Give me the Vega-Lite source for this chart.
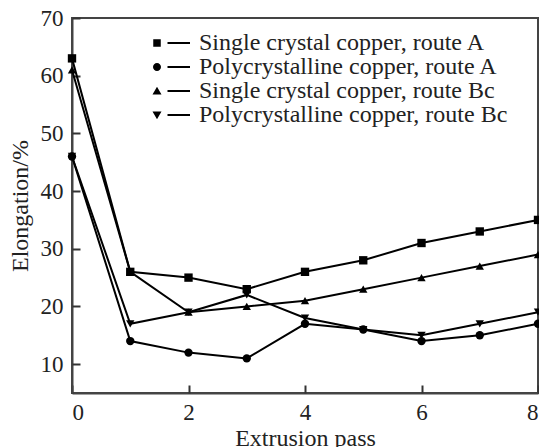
{
  "$schema": "https://vega.github.io/schema/vega-lite/v6.json",
  "width": 466,
  "height": 375,
  "autosize": "none",
  "padding": {"left": 72, "top": 18, "right": 1, "bottom": 54},
  "background": "white",
  "config": {
    "view": {"stroke": "#444", "strokeWidth": 2},
    "font": "Liberation Serif",
    "axis": {
      "labelFont": "Liberation Serif",
      "titleFont": "Liberation Serif",
      "labelFontSize": 23,
      "titleFontSize": 24,
      "titleFontWeight": "normal",
      "labelColor": "#222",
      "titleColor": "#222",
      "domainColor": "#444",
      "domainWidth": 2,
      "tickColor": "#333",
      "tickWidth": 2,
      "grid": false
    },
    "legend": {
      "labelFont": "Liberation Serif",
      "labelFontSize": 24,
      "labelColor": "#222",
      "labelLimit": 500
    }
  },
  "data": {
    "values": [
      {"pass": 0, "elong": 63, "series": "Single crystal copper, route A"},
      {"pass": 1, "elong": 26, "series": "Single crystal copper, route A"},
      {"pass": 2, "elong": 25, "series": "Single crystal copper, route A"},
      {"pass": 3, "elong": 23, "series": "Single crystal copper, route A"},
      {"pass": 4, "elong": 26, "series": "Single crystal copper, route A"},
      {"pass": 5, "elong": 28, "series": "Single crystal copper, route A"},
      {"pass": 6, "elong": 31, "series": "Single crystal copper, route A"},
      {"pass": 7, "elong": 33, "series": "Single crystal copper, route A"},
      {"pass": 8, "elong": 35, "series": "Single crystal copper, route A"},
      {"pass": 0, "elong": 46, "series": "Polycrystalline copper, route A"},
      {"pass": 1, "elong": 14, "series": "Polycrystalline copper, route A"},
      {"pass": 2, "elong": 12, "series": "Polycrystalline copper, route A"},
      {"pass": 3, "elong": 11, "series": "Polycrystalline copper, route A"},
      {"pass": 4, "elong": 17, "series": "Polycrystalline copper, route A"},
      {"pass": 5, "elong": 16, "series": "Polycrystalline copper, route A"},
      {"pass": 6, "elong": 14, "series": "Polycrystalline copper, route A"},
      {"pass": 7, "elong": 15, "series": "Polycrystalline copper, route A"},
      {"pass": 8, "elong": 17, "series": "Polycrystalline copper, route A"},
      {"pass": 0, "elong": 61, "series": "Single crystal copper, route Bc"},
      {"pass": 1, "elong": 26, "series": "Single crystal copper, route Bc"},
      {"pass": 2, "elong": 19, "series": "Single crystal copper, route Bc"},
      {"pass": 3, "elong": 20, "series": "Single crystal copper, route Bc"},
      {"pass": 4, "elong": 21, "series": "Single crystal copper, route Bc"},
      {"pass": 5, "elong": 23, "series": "Single crystal copper, route Bc"},
      {"pass": 6, "elong": 25, "series": "Single crystal copper, route Bc"},
      {"pass": 7, "elong": 27, "series": "Single crystal copper, route Bc"},
      {"pass": 8, "elong": 29, "series": "Single crystal copper, route Bc"},
      {"pass": 0, "elong": 46, "series": "Polycrystalline copper, route Bc"},
      {"pass": 1, "elong": 17, "series": "Polycrystalline copper, route Bc"},
      {"pass": 2, "elong": 19, "series": "Polycrystalline copper, route Bc"},
      {"pass": 3, "elong": 22, "series": "Polycrystalline copper, route Bc"},
      {"pass": 4, "elong": 18, "series": "Polycrystalline copper, route Bc"},
      {"pass": 5, "elong": 16, "series": "Polycrystalline copper, route Bc"},
      {"pass": 6, "elong": 15, "series": "Polycrystalline copper, route Bc"},
      {"pass": 7, "elong": 17, "series": "Polycrystalline copper, route Bc"},
      {"pass": 8, "elong": 19, "series": "Polycrystalline copper, route Bc"}
    ]
  },
  "layer": [
    {
      "mark": {"type": "line", "color": "black", "strokeWidth": 2},
      "encoding": {
        "x": {
          "field": "pass",
          "type": "quantitative",
          "scale": {"domain": [0, 8], "nice": false},
          "axis": {"orient": "bottom", "values": [0, 2, 4, 6, 8], "ticks": false, "title": "Extrusion pass", "labelPadding": 8, "titlePadding": 2}
        },
        "y": {
          "field": "elong",
          "type": "quantitative",
          "scale": {"domain": [5, 70], "nice": false, "zero": false},
          "axis": {"orient": "left", "values": [10, 20, 30, 40, 50, 60, 70], "ticks": false, "title": "Elongation/%", "labelPadding": 9, "titlePadding": 8}
        },
        "detail": {"field": "series"}
      }
    },
    {
      "mark": {"type": "point", "filled": true, "color": "black", "opacity": 1, "size": 70},
      "encoding": {
        "x": {
          "field": "pass",
          "type": "quantitative",
          "axis": {"orient": "bottom", "values": [0, 2, 4, 6, 8], "offset": -8, "ticks": true, "tickSize": 8, "labels": false, "domain": false, "title": null}
        },
        "y": {
          "field": "elong",
          "type": "quantitative",
          "axis": {"orient": "left", "values": [10, 20, 30, 40, 50, 60, 70], "offset": -8, "ticks": true, "tickSize": 8, "labels": false, "domain": false, "title": null}
        },
        "shape": {
          "field": "series",
          "type": "nominal",
          "scale": {
            "domain": ["Single crystal copper, route A", "Polycrystalline copper, route A", "Single crystal copper, route Bc", "Polycrystalline copper, route Bc"],
            "range": ["square", "circle", "triangle-up", "triangle-down"]
          },
          "legend": null
        }
      }
    },
    {
      "transform": [{"filter": "false"}],
      "mark": {"type": "point", "filled": true, "color": "black", "opacity": 1, "size": 100},
      "encoding": {
        "x": {"field": "pass", "type": "quantitative", "axis": null},
        "y": {"field": "elong", "type": "quantitative", "axis": null},
        "shape": {
          "field": "series",
          "type": "nominal",
          "scale": {
            "domain": ["Single crystal copper, route A", "Polycrystalline copper, route A", "Single crystal copper, route Bc", "Polycrystalline copper, route Bc"],
            "range": [
              "M-0.75,-0.75H0.75V0.75H-0.75Z M2.1,-0.2H6.6V0.2H2.1Z",
              "M0.8,0A0.8,0.8 0 1,1 -0.8,0A0.8,0.8 0 1,1 0.8,0Z M2.1,-0.2H6.6V0.2H2.1Z",
              "M0,-0.85L0.9,0.7L-0.9,0.7Z M2.1,-0.2H6.6V0.2H2.1Z",
              "M0,0.85L0.9,-0.7L-0.9,-0.7Z M2.1,-0.2H6.6V0.2H2.1Z"
            ]
          },
          "legend": {
            "title": null,
            "orient": "none",
            "legendX": 73,
            "legendY": 13,
            "symbolSize": 100,
            "labelOffset": 30,
            "rowPadding": 0,
            "padding": 0
          }
        }
      }
    }
  ],
  "resolve": {"scale": {"shape": "independent"}, "legend": {"shape": "independent"}, "axis": {"x": "independent", "y": "independent"}}
}
